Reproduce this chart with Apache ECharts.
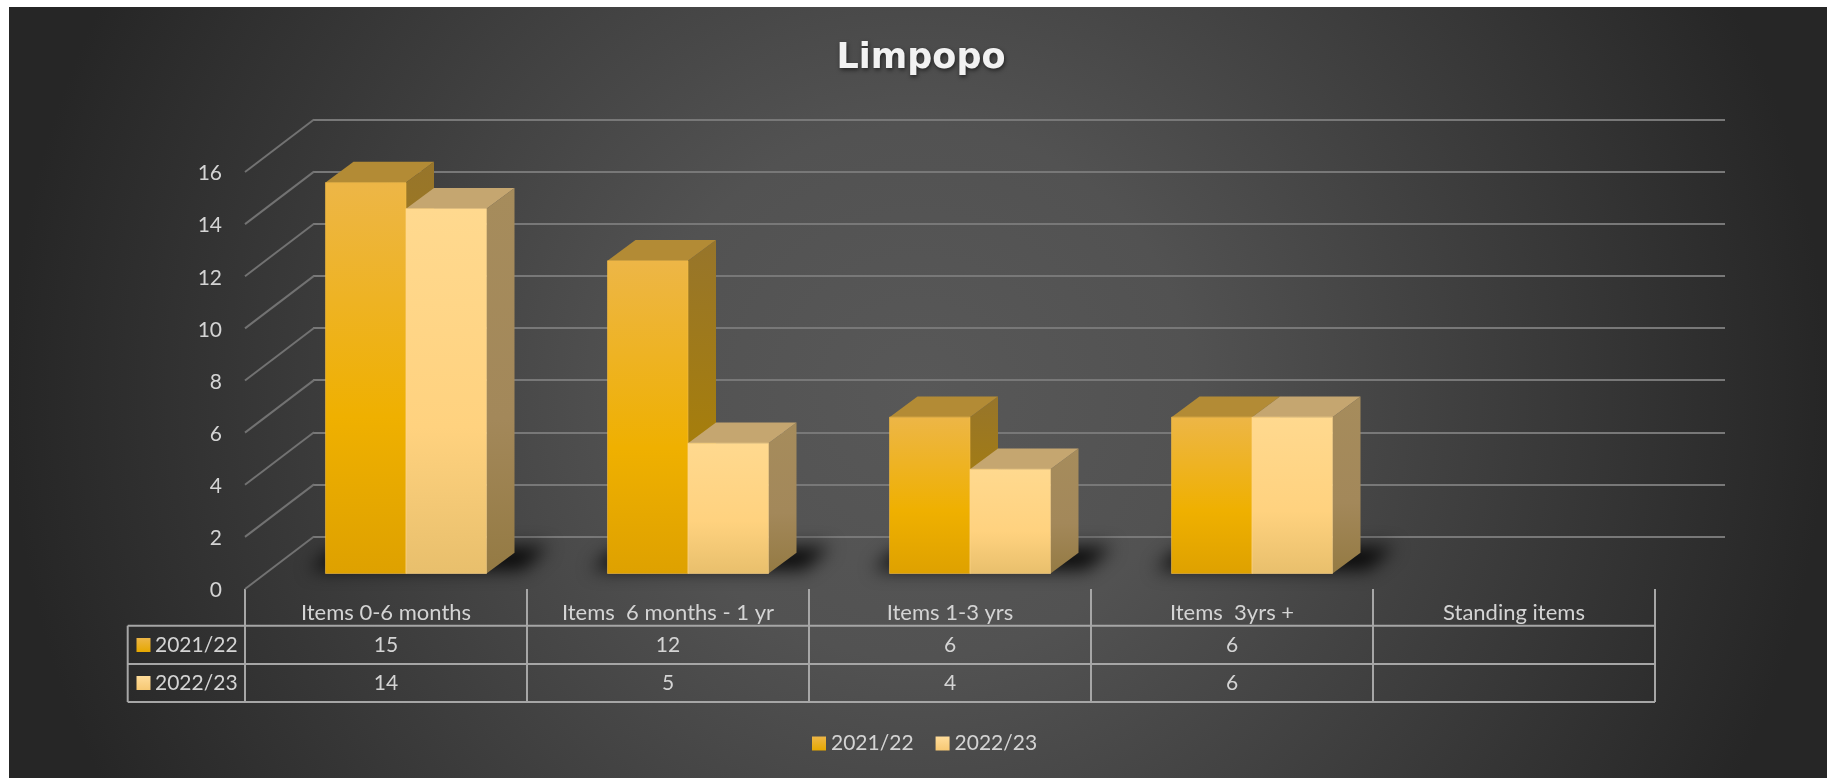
<!DOCTYPE html>
<html><head><meta charset="utf-8">
<script src="https://cdn.jsdelivr.net/npm/echarts@6/dist/echarts.min.js"></script>
<style>
html,body{margin:0;padding:0;background:#fff;width:1827px;height:778px;overflow:hidden}
#bg{position:absolute;left:9px;top:7px;width:1818px;height:771px;background:radial-gradient(ellipse 50% 115% at 50% 50%,#585858 0,#525252 30%,#262626 100%)}
#c{position:absolute;left:0;top:0;width:1827px;height:778px}
</style></head><body><div id="bg"></div><div id="c"></div>
<script>
const categories = ['Items 0-6 months','Items  6 months - 1 yr','Items 1-3 yrs','Items  3yrs +','Standing items'];
const seriesNames = ['2021/22','2022/23'];
const values2122 = [15,12,6,6,null];
const values2223 = [14,5,4,6,null];
const yTicks = [0,2,4,6,8,10,12,14,16];

const FONT='Lato', TXT='#d4d4d4';
const lg=(a)=>({type:'linear',x:0,y:0,x2:0,y2:1,colorStops:a.map((c,i)=>({offset:c[0],color:c[1]}))});
const SKIN=[
 {front:lg([[0,'#edb647'],[.6,'#efb000'],[1,'#dea100']]),top:'#b38b35',side:lg([[0,'#97752b'],[.6,'#a67e0c'],[1,'#97720f'] ]),edge:'rgba(245,190,70,.6)',key:lg([[0,'#edb647'],[1,'#e6a800']])},
 {front:lg([[0,'#ffd98f'],[.6,'#ffd27f'],[1,'#e8bf6c']]),top:'#c5a670',side:lg([[0,'#a68c5c'],[.6,'#a3885a'],[1,'#947a43']]),edge:'rgba(255,215,140,.6)',key:lg([[0,'#ffdc9a'],[1,'#f6c873']])}
];
const BAR=0.2855, BDX=28, BDY=20.7, OFF=4000;
const TBL={left:127.7,r0:625.7,r1:664,r2:702,right:1655};

function barItem(si){return (p,api)=>{
  const v=api.value(1); if(v==null||isNaN(v))return null;
  const i=api.value(0), a=api.coord([i,0]), b=api.coord([i,v]), W=api.size([1,0])[0]*BAR;
  const l=si===0?a[0]-W:a[0], r=l+W, y0=a[1], y1=b[1], s=SKIN[si];
  const poly=(pts,fill)=>({type:'polygon',shape:{points:pts},style:{fill:fill,stroke:'none'}});
  return {type:'group',children:[
    poly([[r,y0],[r+BDX,y0-BDY],[r+BDX,y1-BDY],[r,y1]],s.side),
    poly([[l,y1],[l+BDX,y1-BDY],[r+BDX,y1-BDY],[r,y1]],s.top),
    {type:'rect',shape:{x:l,y:y1,width:W,height:y0-y1},style:{fill:s.front,stroke:s.edge,lineWidth:1}}
  ]};
}}
function shadowItem(p,api){
  const v=api.value(1); if(v==null||isNaN(v))return null;
  const i=api.value(0), a=api.coord([i,0]), W=api.size([1,0])[0]*BAR;
  const l=a[0]-W-OFF, r=a[0]+W-OFF, y=a[1];
  return {type:'polygon',shape:{points:[[l-16,y-4],[l+6,y-23],[r+62,y-27],[r+36,y-4]]},
    style:{fill:'#000',shadowBlur:18,shadowColor:'rgba(0,0,0,.9)',shadowOffsetX:OFF}};
}
function depthItem(p,api){
  const y=api.coord([0,api.value(0)])[1], x=p.coordSys.x;
  return {type:'line',shape:{x1:x,y1:y,x2:x+69,y2:y-52.5},style:{stroke:'#727272',lineWidth:2}};
}
function tableCell(p,api){
  const i=api.value(0), cx=api.coord([i,0])[0];
  const out=[];
  [[values2122,645],[values2223,683]].forEach(([arr,y])=>{
    if(arr[i]!=null) out.push({type:'text',style:{text:String(arr[i]),x:cx,y:y,align:'center',verticalAlign:'middle',fill:TXT,font:'21px '+FONT}});
  });
  return {type:'group',children:out};
}
function tableFrame(p,api){
  if(api.value(0)!==0)return null;
  const L=TBL, st={stroke:'#a6a6a6',lineWidth:2}, kids=[];
  [L.r0,L.r1,L.r2].forEach(y=>kids.push({type:'line',shape:{x1:L.left,y1:y,x2:L.right,y2:y},style:st}));
  kids.push({type:'line',shape:{x1:L.left,y1:L.r0,x2:L.left,y2:L.r2},style:st});
  seriesNames.forEach((n,k)=>{
    const y=[645,683][k];
    kids.push({type:'rect',shape:{x:136.5,y:y-7,width:14,height:14},style:{fill:SKIN[k].key}});
    kids.push({type:'text',style:{text:n,x:155,y:y,align:'left',verticalAlign:'middle',fill:TXT,font:'21px '+FONT}});
  });
  return {type:'group',children:kids};
}

const chart=echarts.init(document.getElementById('c'),null,{renderer:'canvas'});
const catData=categories.map((c,i)=>[i]);
chart.setOption({
  animation:false,
  backgroundColor:'transparent',
  title:{text:'Limpopo',left:916,top:36,textAlign:'center',textStyle:{fontFamily:'DejaVu Sans',fontWeight:'bold',fontSize:35,color:'#f2f2f2',textShadowColor:'rgba(0,0,0,.55)',textShadowBlur:4,textShadowOffsetX:1,textShadowOffsetY:2}},
  legend:{data:seriesNames.map((n,k)=>({name:n,icon:'rect',itemStyle:{color:SKIN[k].key}})),left:807,top:728,itemWidth:14,itemHeight:14,itemGap:22,textStyle:{fontFamily:FONT,fontSize:21,color:TXT}},
  grid:[
    {id:'back',left:313,width:1412,top:119.5,height:417},
    {id:'front',left:245,width:1410,top:172,height:417},
    {id:'bars',left:265,width:1410,top:156.5,height:417}
  ],
  xAxis:[
    {gridIndex:0,type:'category',data:categories,show:false},
    {gridIndex:1,type:'category',data:categories,axisLine:{show:false},
      axisTick:{show:true,length:113,lineStyle:{color:'#a6a6a6',width:2}},
      axisLabel:{margin:13,interval:0,fontFamily:FONT,fontSize:22,color:TXT}},
    {gridIndex:2,type:'category',data:categories,show:false}
  ],
  yAxis:[
    {gridIndex:0,type:'value',min:0,max:16,interval:2,axisLine:{show:false},axisTick:{show:false},axisLabel:{show:false},splitLine:{show:true,lineStyle:{color:'#787878',width:2}}},
    {gridIndex:1,type:'value',min:0,max:16,interval:2,axisLine:{show:false},axisTick:{show:false},splitLine:{show:false},axisLabel:{margin:23,verticalAlign:'top',padding:[-9,0,0,0],fontFamily:FONT,fontSize:21,color:TXT,formatter:v=>String(v)}},
    {gridIndex:2,type:'value',min:0,max:16,interval:2,show:false}
  ],
  series:[
    {type:'custom',name:'depth',silent:true,xAxisIndex:1,yAxisIndex:1,coordinateSystem:'cartesian2d',data:yTicks.map(v=>[v]),encode:{x:-1,y:0},renderItem:depthItem,z:2},
    {type:'custom',name:'shadow',silent:true,xAxisIndex:2,yAxisIndex:2,data:categories.map((c,i)=>[i,values2122[i]]),encode:{x:0,y:1},renderItem:shadowItem,z:3},
    {type:'custom',name:seriesNames[0],xAxisIndex:2,yAxisIndex:2,data:categories.map((c,i)=>[i,values2122[i]]),encode:{x:0,y:1},renderItem:barItem(0),itemStyle:{color:'#efb000'},z:4},
    {type:'custom',name:seriesNames[1],xAxisIndex:2,yAxisIndex:2,data:categories.map((c,i)=>[i,values2223[i]]),encode:{x:0,y:1},renderItem:barItem(1),itemStyle:{color:'#ffd27f'},z:5},
    {type:'custom',name:'tableFrame',silent:true,xAxisIndex:1,yAxisIndex:1,data:catData,encode:{x:0},renderItem:tableFrame,z:6},
    {type:'custom',name:'tableCells',silent:true,xAxisIndex:1,yAxisIndex:1,data:catData,encode:{x:0},renderItem:tableCell,z:6}
  ]
});
</script></body></html>
